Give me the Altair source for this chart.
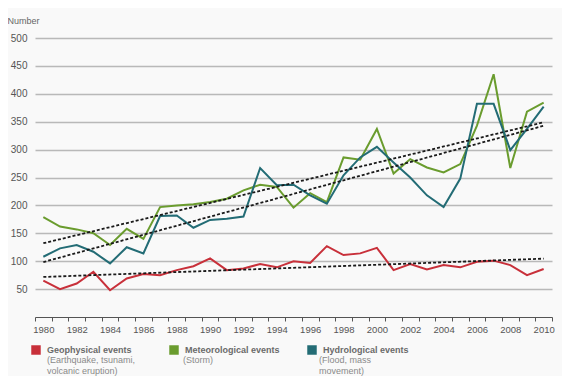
import altair as alt
import pandas as pd

years = list(range(1980, 2011))
geophysical = [65, 50, 60, 81, 48, 69, 77, 75, 84, 91, 105, 84, 87, 95, 89, 100,
               97, 127, 111, 114, 124, 84, 95, 85, 93, 89, 99, 101, 93, 75, 86]
meteorological = [179, 162, 157, 150, 129, 158, 140, 197, 200, 202, 206, 212, 227, 237, 233, 196,
                  222, 206, 286, 282, 337, 257, 283, 268, 259, 274, 343, 435, 267, 368, 384]
hydrological = [108, 123, 129, 117, 96, 125, 114, 181, 182, 160, 174, 176, 180, 267, 236, 237,
                218, 203, 254, 286, 305, 277, 250, 218, 197, 248, 382, 382, 299, 337, 377]

series_names = ["Geophysical events", "Meteorological events", "Hydrological events"]
series_desc = ["(Earthquake, tsunami,|volcanic eruption)", "(Storm)| ", "(Flood, mass|movement)"]
series_colors = ["#c8303a", "#6a9c2e", "#236c75"]
y_ticks = [50, 100, 150, 200, 250, 300, 350, 400, 450, 500]

rows = []
for name, desc, vals in zip(series_names, series_desc, [geophysical, meteorological, hydrological]):
    for yr, v in zip(years, vals):
        rows.append({"year": yr, "value": v, "series": name, "desc": desc})
df = pd.DataFrame(rows)

FONT = "Liberation Sans"
W, H = 517, 279
x_tick_vals = [y - 0.5 for y in years] + [years[-1] + 0.5]

x_enc = alt.X(
    "year:Q",
    scale=alt.Scale(domain=[years[0] - 0.5, years[-1] + 0.5], nice=False, zero=False),
    axis=alt.Axis(
        values=x_tick_vals,
        labelExpr="(datum.value + 0.5) % 2 == 0 && datum.value < 2010 ? format(datum.value + 0.5, 'd') : ''",
        labelOffset=W / len(years) / 2,
        labelFlush=False,
        labelOverlap=False,
        labelBound=False,
        grid=False,
        title=None,
        domainColor="#555555",
        domainWidth=1.2,
        tickColor="#555555",
        tickSize=4,
        tickWidth=1,
        labelFont=FONT,
        labelFontSize=9.5,
        labelColor="#555555",
        labelPadding=3,
    ),
)
y_enc = alt.Y(
    "value:Q",
    scale=alt.Scale(domain=[0, 500], nice=False),
    axis=alt.Axis(
        values=y_ticks,
        grid=True,
        gridColor="#b9b9b9",
        gridWidth=1.6,
        domain=False,
        ticks=False,
        labelFont=FONT,
        labelFontSize=10,
        labelColor="#555555",
        labelPadding=8,
        title="Number",
        titleAngle=0,
        titleAlign="left",
        titleBaseline="middle",
        titleX=-28,
        titleY=-18,
        titleFont=FONT,
        titleFontSize=9,
        titleFontWeight="normal",
        titleColor="#666666",
    ),
)

color_scale = alt.Scale(domain=series_names, range=series_colors)

lines = alt.Chart(df).mark_line(strokeWidth=2).encode(
    x=x_enc,
    y=y_enc,
    color=alt.Color("series:N", scale=color_scale, legend=None),
)

trend = alt.Chart(df).transform_regression(
    "year", "value", groupby=["series"]
).mark_line(color="#1a1a1a", strokeWidth=1.8, strokeDash=[3, 2]).encode(
    x=x_enc,
    y=y_enc,
    detail="series:N",
)

legend_pts = alt.Chart(df).mark_point(filled=True, opacity=0).encode(
    x=x_enc,
    y=y_enc,
    color=alt.Color(
        "series:N",
        scale=color_scale,
        legend=alt.Legend(
            orient="none", legendX=-4, legendY=307, direction="horizontal",
            columns=3, gridAlign="all", columnPadding=27, padding=0,
            symbolType="square", symbolSize=90, symbolStrokeWidth=0, symbolOpacity=1,
            labelFont=FONT, labelFontSize=9, labelFontWeight="bold", labelColor="#6a6a6a",
            labelOffset=6, labelLimit=300, title=None,
        ),
    ),
    shape=alt.Shape(
        "desc:N",
        scale=alt.Scale(domain=series_desc, range=["square", "square", "square"]),
        legend=alt.Legend(
            orient="none", legendX=-4, legendY=313, direction="horizontal",
            columns=3, gridAlign="all", columnPadding=31, padding=0,
            symbolType="square", symbolSize=90, symbolStrokeWidth=0, symbolOpacity=0,
            labelFont=FONT, labelFontSize=9, labelFontWeight="normal", labelColor="#8a8a8a",
            labelExpr="split(datum.label, '|')", labelBaseline="top",
            labelOffset=6, labelLimit=300, title=None,
        ),
    ),
)

chart = alt.layer(lines, trend, legend_pts).resolve_legend(
    color="independent", shape="independent"
).properties(
    width=W, height=H,
    autosize=alt.AutoSizeParams(type="none"),
    padding={"left": 27, "top": 30, "right": 10, "bottom": 59},
    background="#f9f9f9",
).configure_view(stroke=None)

chart.save("out.html", embed_options={"renderer": "svg", "actions": False})
